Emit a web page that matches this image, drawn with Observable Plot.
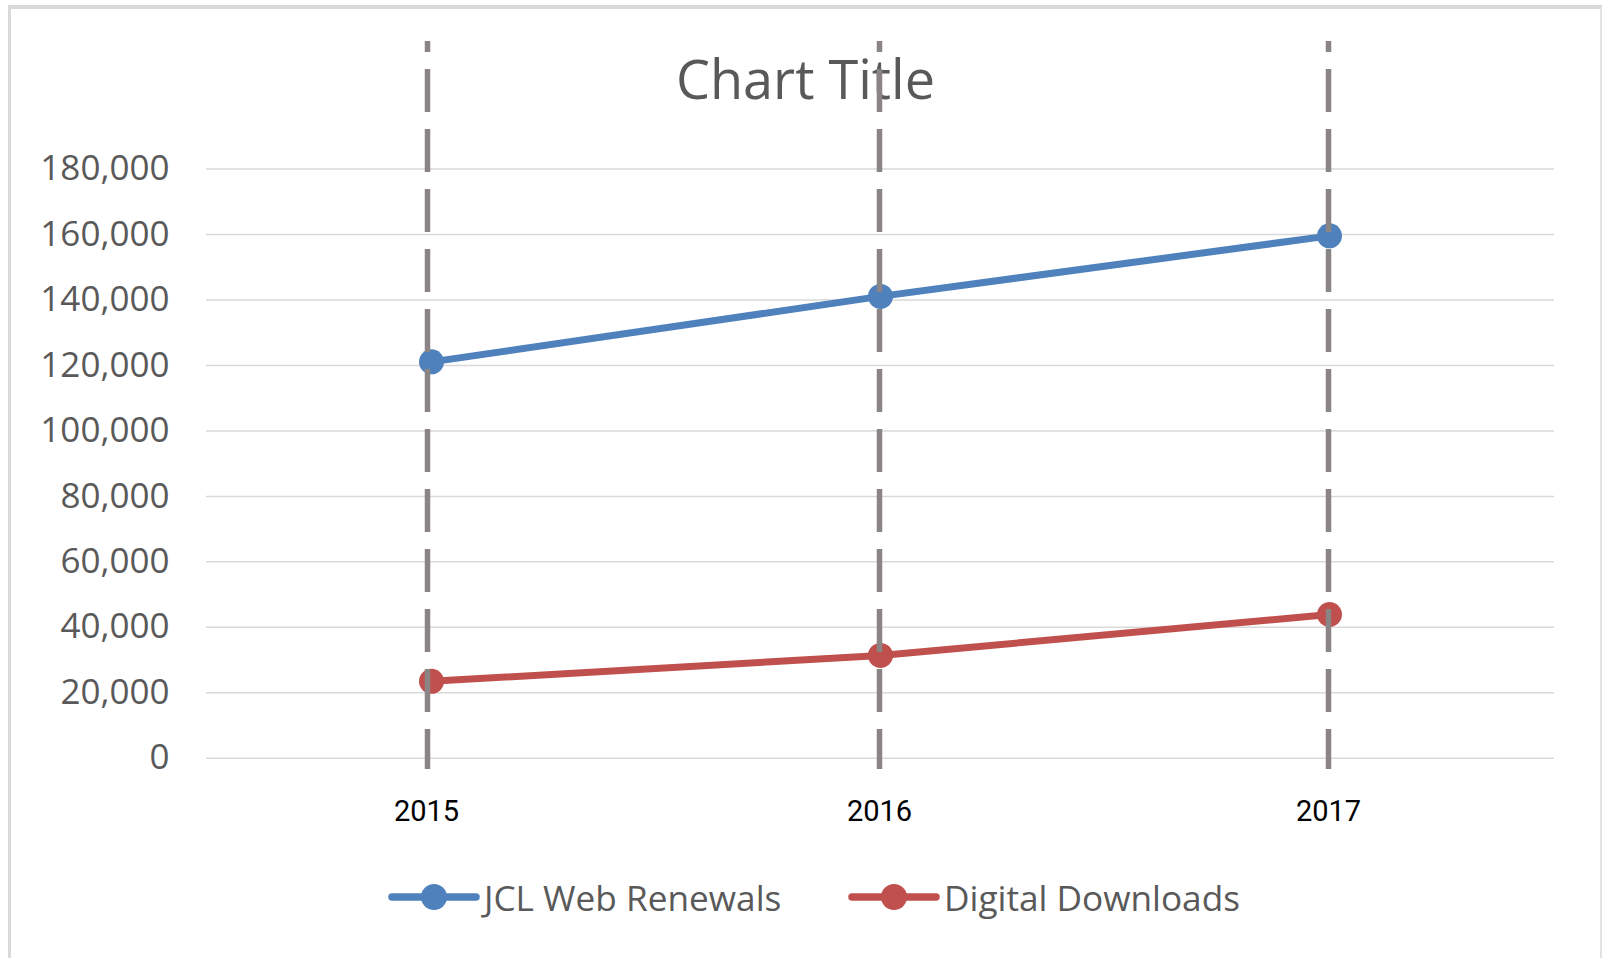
<!DOCTYPE html>
<html>
<head>
<meta charset="utf-8">
<script src="https://cdn.jsdelivr.net/npm/d3@7"></script>
<script src="https://cdn.jsdelivr.net/npm/@observablehq/plot@0.6"></script>
<style>
  html, body { margin: 0; padding: 0; background: #fff; }
  #wrap { position: relative; width: 1602px; height: 958px; overflow: hidden; background: #fff; }
  #box { position: absolute; left: 8px; top: 5px; width: 1589px; height: 960px;
         border-top: 4px solid #d9d9d9; border-left: 3px solid #d9d9d9; border-right: 2px solid #e3e3e3; }
  #title { position: absolute; left: 10px; width: 1591px; top: 51px; text-align: center;
           font-family: "Open Sans", sans-serif; font-size: 54px; line-height: 54px; color: #595959; z-index: 0; }
  #chart { position: absolute; left: 0; top: 0; z-index: 1; }
  #legend { position: absolute; top: 872px; left: 0; height: 50px; z-index: 2;
            font-family: "Open Sans", sans-serif; font-size: 35.2px; color: #595959; }
  .item { position: absolute; top: 0; display: flex; align-items: center; height: 50px; white-space: nowrap; }
  .item svg { display: block; margin-right: 4px; }
</style>
</head>
<body>
<div id="wrap">
  <div id="box"></div>
  <div id="title">Chart Title</div>
  <div id="chart"></div>
  <div id="legend"></div>
</div>
<script>
// ---- data ----
const years = ["2015", "2016", "2017"];
const seriesNames = ["JCL Web Renewals", "Digital Downloads"];
const seriesColors = ["#4f81bd", "#c0504d"];
const webRenewals = [121100, 141100, 159600];
const digitalDownloads = [23500, 31400, 43900];
const yTicks = [0, 20000, 40000, 60000, 80000, 100000, 120000, 140000, 160000, 180000];

const seriesValues = [webRenewals, digitalDownloads];
const data = seriesNames.flatMap((name, i) =>
  years.map((year, j) => ({ series: name, year, value: seriesValues[i][j] }))
);

const dashStyle = {
  stroke: "#8a8485", strokeWidth: 5.5, strokeDasharray: "43,17", strokeDashoffset: 32,
  insetTop: -127.6, insetBottom: -11.3
};
const xAxisStyle = { tickSize: 0, tickPadding: 42, label: null, fontSize: 29,
                     fontFamily: "Roboto", fill: "#000" };

const chart = Plot.plot({
  width: 1602,
  height: 958,
  marginLeft: 206,
  marginRight: 48,
  marginTop: 168.6,
  marginBottom: 200.3,
  style: { background: "transparent", overflow: "visible" },
  x: { type: "point", domain: years, padding: 0.5 },
  y: { domain: [0, 180000] },
  color: { domain: seriesNames, range: seriesColors },
  marks: [
    Plot.ruleY(yTicks, { stroke: "#d9d9d9", strokeWidth: 1.5 }),
    Plot.axisY({ ticks: yTicks, tickSize: 0, tickPadding: 37, tickFormat: d3.format(","),
                 label: null, fontSize: 35, fontFamily: "Open Sans", fill: "#595959" }),
    Plot.axisX({ ...xAxisStyle, ticks: years.slice(0, 1), dx: -5 }),
    Plot.axisX({ ...xAxisStyle, ticks: years.slice(1), dx: -1 }),
    Plot.line(data, { x: "year", y: "value", z: "series", stroke: "series",
                      strokeWidth: 7, strokeLinecap: "round", strokeLinejoin: "round" }),
    Plot.dot(data, { x: "year", y: "value", fill: "series", r: 12.5 }),
    Plot.ruleX(years.slice(0, 1), { ...dashStyle, dx: -4 }),
    Plot.ruleX(years.slice(1), { ...dashStyle, dx: -1 })
  ]
});
document.getElementById("chart").appendChild(chart);

// ---- legend ----
const legend = document.getElementById("legend");
const legendLefts = [388, 848];
seriesNames.forEach((name, i) => {
  const item = document.createElement("div");
  item.className = "item";
  item.style.left = legendLefts[i] + "px";
  const c = seriesColors[i];
  item.innerHTML =
    `<svg width="92" height="30" viewBox="0 0 92 30">
       <line x1="4" y1="15" x2="88" y2="15" stroke="${c}" stroke-width="7.5" stroke-linecap="round"/>
       <circle cx="46" cy="15" r="13" fill="${c}"/>
     </svg><span>${name}</span>`;
  legend.appendChild(item);
});
</script>
</body>
</html>
